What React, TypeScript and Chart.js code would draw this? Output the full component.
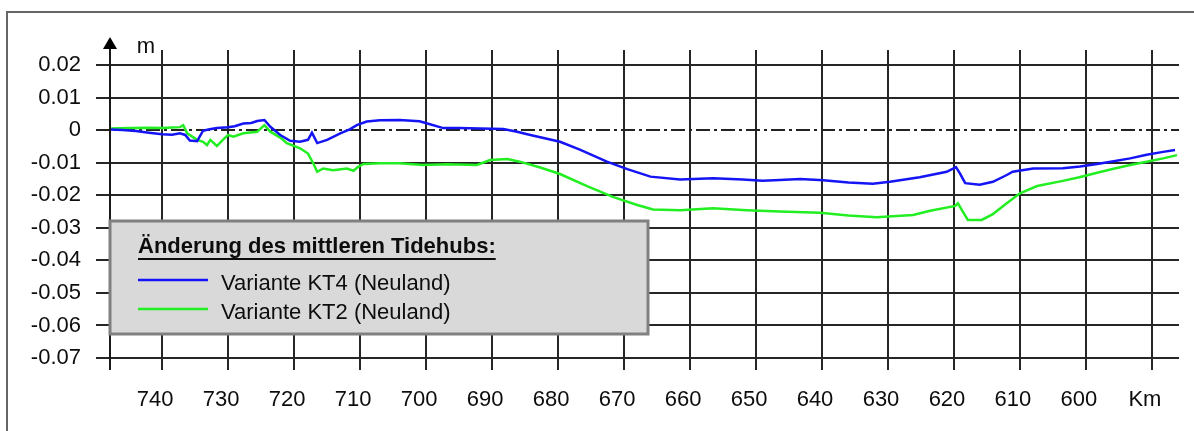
import React, { useEffect, useRef } from 'react';
import { Chart, registerables } from 'chart.js';

Chart.register(...registerables);

// ---- data ----
const kmKT4 = [
  747.9, 746, 744, 742, 740, 738.5, 737.3, 736.5, 735.8, 734.7, 733.8, 733, 731.7, 730, 729, 727.7,
  726.5, 725.6, 724.5, 723.6, 722.1, 720.6, 719.1, 717.9, 717.3, 716.5, 715, 713, 711.5, 710.5, 709,
  707, 704, 701, 699.8, 697.4, 695, 691.8, 688.3, 686.2, 684.2, 679.7, 676.7, 672.6, 669.5, 666,
  661.5, 656.5, 652, 649, 646.4, 643.3, 639.8, 636, 632.3, 629.7, 625.2, 621.1, 619.7, 619.1, 618.3,
  616.1, 614.1, 612, 611.1, 608, 603.5, 600.9, 598.3, 595.8, 593.3, 590.8, 588.3, 586.5,
];
const valKT4 = [
  0.0002, 0.0, -0.0003, -0.0008, -0.0013, -0.0014, -0.001, -0.0015, -0.0032, -0.0034, -0.0002, 0.0002,
  0.0006, 0.0009, 0.0012, 0.002, 0.0022, 0.0028, 0.0031, 0.001, -0.0015, -0.0033, -0.0036, -0.003,
  -0.0008, -0.004, -0.003, -0.001, 0.0003, 0.0015, 0.0026, 0.003, 0.0031, 0.0027, 0.002, 0.0006,
  0.0006, 0.0005, 0.0003, -0.0005, -0.0015, -0.0036, -0.006, -0.0097, -0.012, -0.0143, -0.0152,
  -0.0148, -0.0152, -0.0156, -0.0153, -0.015, -0.0154, -0.0161, -0.0165, -0.0159, -0.0145, -0.0128,
  -0.0114, -0.0133, -0.0163, -0.0168, -0.0159, -0.0138, -0.0128, -0.0118, -0.0117, -0.0112, -0.0104,
  -0.0096, -0.0087, -0.0076, -0.0067, -0.0061,
];
const kmKT2 = [
  747.9, 745, 742, 740, 738.5, 737.3, 736.8, 736.2, 734.7, 733.8, 733.2, 732.7, 731.7, 730.8, 730,
  729.2, 727.7, 725.6, 724.5, 723.6, 722.1, 721.1, 719.1, 717.9, 717.1, 716.5, 715.6, 714.1, 712, 711,
  710.3, 709.5, 707, 704, 700.5, 696.8, 692.3, 690.3, 687.7, 685.8, 682.7, 679.7, 675.6, 671.7, 668,
  665.6, 661.5, 656.5, 651.4, 646.4, 640.3, 636, 631.7, 626.2, 623.6, 619.8, 619.4, 618.8, 617.9,
  615.8, 614.1, 612, 610, 607.4, 603.5, 601, 598.3, 595.8, 593.3, 590.8, 588.3, 586.2,
];
const valKT2 = [
  0.0005, 0.0006, 0.0007, 0.0006, 0.0008, 0.0009, 0.0015, -0.001, -0.003, -0.0036, -0.0046, -0.003,
  -0.0049, -0.003, -0.0015, -0.002, -0.001, -0.0005, 0.0015, -0.0005, -0.0023, -0.004, -0.0056,
  -0.0072, -0.0102, -0.0128, -0.0118, -0.0123, -0.0118, -0.0125, -0.0113, -0.0104, -0.0102, -0.0102,
  -0.0107, -0.0105, -0.0107, -0.0092, -0.0089, -0.0097, -0.0115, -0.0135, -0.0172, -0.0205, -0.023,
  -0.0244, -0.0246, -0.024, -0.0246, -0.025, -0.0254, -0.0262, -0.0268, -0.0261, -0.0248, -0.0233,
  -0.0225, -0.0246, -0.0276, -0.0276, -0.0258, -0.0225, -0.0194, -0.0172, -0.0156, -0.0145, -0.0131,
  -0.0119, -0.0107, -0.0097, -0.0087, -0.0077,
];
const xTicks = [740, 730, 720, 710, 700, 690, 680, 670, 660, 650, 640, 630, 620, 610, 600, 590];
const xTickLabels = ['740', '730', '720', '710', '700', '690', '680', '670', '660', '650', '640', '630', '620', '610', '600', 'Km'];
const yTicks = [0.02, 0.01, 0, -0.01, -0.02, -0.03, -0.04, -0.05, -0.06, -0.07];
const yTickLabels = ['0.02', '0.01', '0', '-0.01', '-0.02', '-0.03', '-0.04', '-0.05', '-0.06', '-0.07'];
const seriesNames = ['Variante KT4 (Neuland)', 'Variante KT2 (Neuland)'];
const seriesColors = ['#1414f5', '#22ee22'];
const legendTitle = 'Änderung des mittleren Tidehubs:';
const yUnit = 'm';

const FONT = "'Liberation Sans', Arial, sans-serif";
const GRID = '#262626';
const TEXT = '#0d0d0d';

const decor = {
  id: 'decor',
  beforeDatasetsDraw(chart: any) {
    const ctx = chart.ctx;
    const { left, right } = chart.chartArea;
    const y0 = Math.round(chart.scales.y.getPixelForValue(0));
    ctx.save();
    ctx.strokeStyle = '#222';
    ctx.lineWidth = 2;
    ctx.setLineDash([14, 4, 3, 4]);
    ctx.beginPath();
    ctx.moveTo(left - 14, y0);
    ctx.lineTo(right, y0);
    ctx.stroke();
    ctx.restore();
  },
  afterDraw(chart: any) {
    const ctx = chart.ctx;
    const { left, bottom } = chart.chartArea;
    ctx.save();
    // outer frame
    ctx.strokeStyle = '#666';
    ctx.lineWidth = 2;
    ctx.strokeRect(7, 12, 1210, 440);
    // y axis line with arrow
    ctx.strokeStyle = '#1a1a1a';
    ctx.lineWidth = 2;
    ctx.beginPath();
    ctx.moveTo(left, 46);
    ctx.lineTo(left, bottom + 12);
    ctx.stroke();
    ctx.fillStyle = '#000';
    ctx.beginPath();
    ctx.moveTo(left, 37);
    ctx.lineTo(left - 7, 49);
    ctx.lineTo(left + 7, 49);
    ctx.closePath();
    ctx.fill();
    // unit
    ctx.font = `22px ${FONT}`;
    ctx.fillStyle = TEXT;
    ctx.textAlign = 'center';
    ctx.textBaseline = 'alphabetic';
    ctx.fillText(yUnit, 146, 53);
    // legend box
    ctx.fillStyle = '#d9d9d9';
    ctx.fillRect(110, 221, 538, 113);
    ctx.strokeStyle = '#808080';
    ctx.lineWidth = 3;
    ctx.strokeRect(110, 221, 538, 113);
    ctx.fillStyle = TEXT;
    ctx.textAlign = 'left';
    ctx.font = `bold 22px ${FONT}`;
    ctx.fillText(legendTitle, 138, 253);
    const tw = ctx.measureText(legendTitle).width;
    ctx.strokeStyle = TEXT;
    ctx.lineWidth = 2;
    ctx.beginPath();
    ctx.moveTo(138, 259);
    ctx.lineTo(138 + tw, 259);
    ctx.stroke();
    ctx.font = `22px ${FONT}`;
    ctx.textBaseline = 'middle';
    const rows = [280, 309];
    seriesNames.forEach((name, i) => {
      ctx.strokeStyle = seriesColors[i];
      ctx.lineWidth = 2.5;
      ctx.beginPath();
      ctx.moveTo(138, rows[i]);
      ctx.lineTo(208, rows[i]);
      ctx.stroke();
      ctx.fillStyle = TEXT;
      ctx.fillText(name, 221, rows[i] + 4);
    });
    ctx.restore();
  },
};

export default function App() {
  const ref = useRef<HTMLCanvasElement>(null);
  useEffect(() => {
    document.body.style.margin = '0';
    const chart = new Chart(ref.current as HTMLCanvasElement, {
      type: 'line',
      data: {
        datasets: [
          {
            label: seriesNames[0],
            data: kmKT4.map((k, i) => ({ x: k, y: valKT4[i] })),
            borderColor: seriesColors[0],
            borderWidth: 2.5,
            pointRadius: 0,
            fill: false,
            tension: 0,
          },
          {
            label: seriesNames[1],
            data: kmKT2.map((k, i) => ({ x: k, y: valKT2[i] })),
            borderColor: seriesColors[1],
            borderWidth: 2.5,
            pointRadius: 0,
            fill: false,
            tension: 0,
          },
        ],
      },
      options: {
        responsive: false,
        animation: false,
        devicePixelRatio: 1,
        layout: { padding: { top: 50, right: 15, left: 0, bottom: 0 } },
        plugins: { legend: { display: false }, tooltip: { enabled: false } },
        scales: {
          x: {
            type: 'linear',
            reverse: true,
            min: 585.9,
            max: 747.9,
            afterBuildTicks: (s: any) => {
              s.ticks = xTicks.map((v) => ({ value: v }));
            },
            afterFit: (s: any) => {
              s.height = 73;
            },
            grid: { color: GRID, lineWidth: 2, tickLength: 12, tickColor: GRID, tickWidth: 2 },
            border: { display: false },
            ticks: {
              autoSkip: false,
              maxRotation: 0,
              minRotation: 0,
              padding: 17,
              labelOffset: -7,
              color: TEXT,
              font: { family: FONT, size: 22 },
              callback: (v: any) => xTickLabels[xTicks.indexOf(v)],
            },
          },
          y: {
            type: 'linear',
            min: -0.07,
            max: 0.02459,
            afterBuildTicks: (s: any) => {
              s.ticks = yTicks.map((v) => ({ value: v }));
            },
            afterFit: (s: any) => {
              s.width = 110;
            },
            grid: {
              color: (c: any) => (c.tick && c.tick.value === 0 ? 'rgba(0,0,0,0)' : GRID),
              tickColor: (c: any) => (c.tick && c.tick.value === 0 ? 'rgba(0,0,0,0)' : GRID),
              lineWidth: 2,
              tickWidth: 2,
              tickLength: 14,
            },
            border: { display: false },
            ticks: {
              padding: 15,
              color: TEXT,
              font: { family: FONT, size: 22 },
              callback: (v: any) => yTickLabels[yTicks.indexOf(v)],
            },
          },
        },
      },
      plugins: [decor],
    } as any);
    return () => chart.destroy();
  }, []);
  return (
    <div style={{ width: 1194, height: 431 }}>
      <canvas ref={ref} width={1194} height={431} style={{ display: 'block' }} />
    </div>
  );
}
